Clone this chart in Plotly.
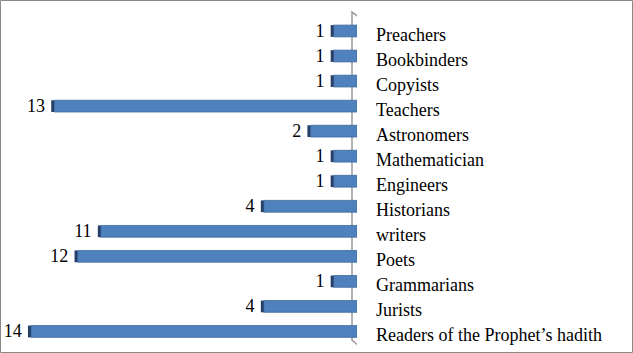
import plotly.graph_objects as go

categories = ["Preachers", "Bookbinders", "Copyists", "Teachers", "Astronomers",
              "Mathematician", "Engineers", "Historians", "writers", "Poets",
              "Grammarians", "Jurists", "Readers of the Prophet\u2019s hadith"]
values = [1, 1, 1, 13, 2, 1, 1, 4, 11, 12, 1, 4, 14]

FONT = "Liberation Serif, Times New Roman, serif"
cap = 0.13
BW = 0.47

fig = go.Figure()
fig.add_trace(go.Bar(
    y=categories, x=values, orientation="h", width=BW,
    marker=dict(color="#4F81BD", line=dict(color="#3D6A9E", width=0.8)),
    hoverinfo="skip", showlegend=False,
))
fig.add_trace(go.Bar(
    y=categories, x=[cap] * len(values), base=values, orientation="h", width=BW,
    marker=dict(color="#24406A", line=dict(width=0)),
    hoverinfo="skip", showlegend=False,
))
# transparent spacer carrying the value labels
fig.add_trace(go.Bar(
    y=categories, x=[cap + 0.14] * len(values), base=values, orientation="h", width=BW,
    marker=dict(color="rgba(0,0,0,0)", line=dict(width=0)),
    text=[str(v) for v in values], textposition="outside",
    textfont=dict(family=FONT, size=18, color="#000000"),
    cliponaxis=False, constraintext="none",
    hoverinfo="skip", showlegend=False,
))

annotations = [
    dict(x=0, y=c, xref="x", yref="y", text=c, showarrow=False,
         xanchor="left", yanchor="middle", xshift=17, yshift=-4,
         font=dict(family=FONT, size=18, color="#000000"))
    for c in categories
]

fig.update_layout(
    width=633, height=353,
    margin=dict(l=0, r=276, t=15, b=9),
    paper_bgcolor="white", plot_bgcolor="white",
    barmode="overlay",
    font=dict(family=FONT, size=18, color="#000000"),
    xaxis=dict(range=[15.33, 0], showgrid=False, zeroline=False,
               showticklabels=False, showline=False, ticks=""),
    yaxis=dict(categoryorder="array", categoryarray=categories,
               autorange="reversed", showgrid=False, zeroline=False,
               showline=False, ticks="", showticklabels=False),
    annotations=annotations,
    shapes=[
        dict(type="path", xref="x", xsizemode="pixel", xanchor=0,
             yref="paper", layer="below",
             path="M -5,1.009 L 3,0.991 L 3,-0.009 L -5,0.012 Z",
             line=dict(color="#9a9a9a", width=1.5), fillcolor="rgba(0,0,0,0)"),
        dict(type="rect", xref="paper", yref="paper",
             x0=0.5 / 357, x1=632.5 / 357, y0=-8.5 / 329, y1=1 + 14.5 / 329,
             line=dict(color="#8a8a8a", width=1), fillcolor="rgba(0,0,0,0)"),
    ],
)

fig.write_html("out.html")
